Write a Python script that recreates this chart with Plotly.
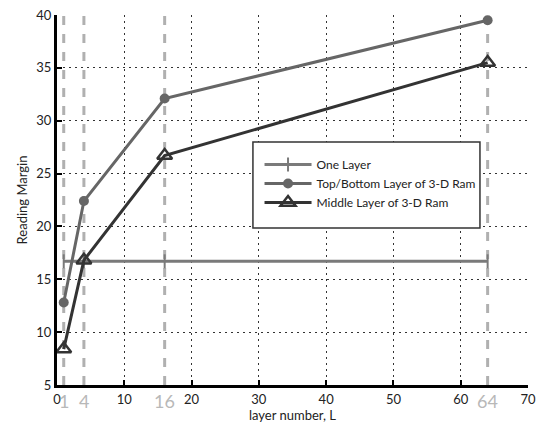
import plotly.graph_objects as go

layers = [1, 4, 16, 64]
one_layer = [16.7, 16.7, 16.7, 16.7]
top_bottom = [12.8, 22.4, 32.1, 39.5]
middle = [8.4, 16.8, 26.7, 35.5]
x_ticks = [0, 10, 20, 30, 40, 50, 60, 70]
y_ticks = [5, 10, 15, 20, 25, 30, 35, 40]
highlight = [1, 4, 16, 64]

FONT = "Lato, Open Sans, sans-serif"
fig = go.Figure()

# dashed highlight verticals
for h in highlight:
    fig.add_shape(type="line", xref="x", yref="y", x0=h, x1=h, y0=5, y1=40,
                  line=dict(color="#b0b0b0", width=3, dash="dash"), layer="below")
    fig.add_annotation(x=h, xref="x", y=0, yref="paper", yshift=-3, text=str(h),
                       showarrow=False, yanchor="top",
                       font=dict(family=FONT, size=18, color="#b8b8b8"))

# legend frame
fig.add_shape(type="rect", xref="paper", yref="paper", x0=0.416, x1=0.898, y0=0.424, y1=0.657,
              line=dict(color="#333", width=1.5), fillcolor="white", layer="above")

fig.add_trace(go.Scatter(x=layers, y=one_layer, name="One Layer", mode="lines+markers",
                         line=dict(color="#7a7a7a", width=3),
                         marker=dict(symbol="line-ns", size=10, line=dict(width=2, color="#7a7a7a"))))
fig.add_trace(go.Scatter(x=layers, y=top_bottom, name="Top/Bottom Layer of 3-D Ram", mode="lines+markers",
                         line=dict(color="#666666", width=3),
                         marker=dict(symbol="circle", size=10, color="#666666")))
fig.add_trace(go.Scatter(x=layers, y=middle, name="Middle Layer of 3-D Ram", mode="lines+markers",
                         line=dict(color="#333333", width=3),
                         marker=dict(symbol="triangle-up-open", size=13, line=dict(width=2.5, color="#333333"))))

axis_common = dict(showline=True, linecolor="black", linewidth=3, ticks="inside", ticklen=5,
                   tickwidth=2, tickcolor="black", showgrid=True, gridcolor="#333333",
                   griddash="2px,4px", gridwidth=1.2, zeroline=False, automargin=False,
                   ticklabeloverflow="allow",
                   tickfont=dict(family=FONT, size=13, color="#222"))

fig.update_xaxes(range=[0, 70], tickvals=x_ticks, title=dict(text="layer number, L",
                 font=dict(family=FONT, size=13, color="#222")), **axis_common)
fig.update_yaxes(range=[5, 40], tickvals=y_ticks, title=dict(text="Reading Margin", standoff=6,
                 font=dict(family=FONT, size=13, color="#222")), **axis_common)

fig.update_layout(
    width=537, height=423,
    margin=dict(l=57, r=9, t=15, b=38),
    plot_bgcolor="white", paper_bgcolor="white",
    legend=dict(x=0.43, y=0.635, xanchor="left", yanchor="top",
                bgcolor="rgba(0,0,0,0)", borderwidth=0,
                font=dict(family=FONT, size=12, color="#222"), itemwidth=47,
                tracegroupgap=0),
)

# remove the default 8px page margin so the 537x423 figure fills the window exactly
fig.write_html("out.html", config={"displayModeBar": False},
               post_script="document.body.style.margin='0px';"
                           "document.documentElement.style.overflow='hidden';")
